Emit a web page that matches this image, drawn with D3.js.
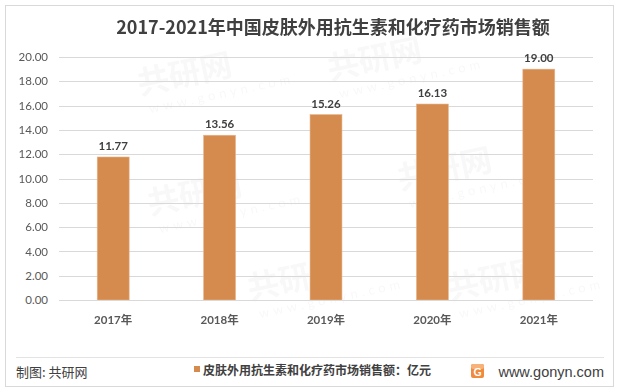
<!DOCTYPE html>
<html><head><meta charset="utf-8">
<script src="https://cdn.jsdelivr.net/npm/d3@7"></script>
<style>
body{margin:0;background:#fff;}
svg{display:block;}
</style></head>
<body>
<svg id="c" width="618" height="392"></svg>
<script>
const categories = ["2017年","2018年","2019年","2020年","2021年"];
const values = [11.77, 13.56, 15.26, 16.13, 19.00];
const yTicks = [0,2,4,6,8,10,12,14,16,18,20];
const title = "2017-2021年中国皮肤外用抗生素和化疗药市场销售额";
const legendLabel = "皮肤外用抗生素和化疗药市场销售额：亿元";
const sourceLabel = "制图: 共研网";
const siteLabel = "www.gonyn.com";

const svg = d3.select("#c");
const font = "Lato, 'Noto Sans CJK SC', sans-serif";
const cjk = "'Noto Sans CJK SC', sans-serif";

// outer border
svg.append("rect").attr("x",5.5).attr("y",5.5).attr("width",608).attr("height",381)
  .attr("fill","#fff").attr("stroke","#d9d9d9");

// faint watermarks (kept well inside the frame)
const wm = svg.append("g").attr("fill","#000").attr("opacity",0.03)
  .attr("font-family",cjk).attr("font-weight","bold");
[[140,95],[330,80],[150,215],[400,190],[250,300],[450,300]].forEach(([x,y])=>{
  wm.append("text").attr("x",x).attr("y",y).attr("font-size",32)
    .attr("transform",`rotate(-12,${x},${y})`).text("共研网");
  wm.append("text").attr("x",x+6).attr("y",y+20).attr("font-size",13).attr("font-family","Lato, sans-serif")
    .attr("font-weight","normal").attr("letter-spacing",4)
    .attr("transform",`rotate(-12,${x},${y})`).text("www.gonyn.com");
});

// title
svg.append("text").attr("x",333).attr("y",34).attr("text-anchor","middle")
  .attr("font-family",cjk).attr("font-weight","bold").attr("font-size",18)
  .attr("fill","#404040").text(title);

const x = d3.scaleBand().domain(categories).range([60,592]).paddingInner(0.7).paddingOuter(0.35);
const y = d3.scaleLinear().domain([0,20]).range([300,57]);

// grid
svg.append("g").selectAll("line").data(yTicks.filter(d=>d>0)).join("line")
  .attr("x1",59).attr("x2",593).attr("y1",d=>Math.round(y(d))+0.5).attr("y2",d=>Math.round(y(d))+0.5)
  .attr("stroke","#d9d9d9").attr("stroke-width",1);

// y axis labels
const yAxis = d3.axisLeft(y).tickValues(yTicks).tickFormat(d=>d.toFixed(2)).tickSize(0).tickPadding(0);
const ga = svg.append("g").attr("transform","translate(48,0)").call(yAxis);
ga.select(".domain").remove();
ga.selectAll("text").attr("font-family",font).attr("font-size",11.5).attr("fill","#595959");

// bars
svg.append("g").selectAll("rect").data(values).join("rect")
  .attr("x",(d,i)=>x(categories[i])).attr("width",x.bandwidth())
  .attr("y",d=>y(d)).attr("height",d=>y(0)-y(d))
  .attr("fill","#d48b4d").attr("stroke","#e7b48a").attr("stroke-width",0.6);

// value labels
svg.append("g").selectAll("text").data(values).join("text")
  .attr("x",(d,i)=>x(categories[i])+x.bandwidth()/2).attr("y",d=>y(d)-7)
  .attr("text-anchor","middle").attr("font-family",font).attr("font-weight","bold")
  .attr("font-size",11.5).attr("fill","#404040").text(d=>d.toFixed(2));

// x axis
const xAxis = d3.axisBottom(x).tickSize(0).tickPadding(0);
const gx = svg.append("g").attr("transform","translate(0,300)").call(xAxis);
gx.select(".domain").attr("stroke","#d9d9d9").attr("d","M59,0.5H593");
gx.selectAll("text").attr("dy",0).attr("y",24).attr("font-family",font).attr("font-weight","bold")
  .attr("font-size",11.5).attr("fill","#595959");

// footer
svg.append("line").attr("x1",16).attr("x2",604).attr("y1",357.5).attr("y2",357.5).attr("stroke","#e3e3e3");
svg.append("text").attr("x",16).attr("y",377).attr("font-family",cjk).attr("font-size",13)
  .attr("fill","#404040").text(sourceLabel);
svg.append("rect").attr("x",194).attr("y",366).attr("width",6).attr("height",6).attr("fill","#d48b4d");
svg.append("text").attr("x",203).attr("y",375).attr("font-family",cjk).attr("font-size",12)
  .attr("font-weight","bold").attr("fill","#404040").text(legendLabel);
// logo
const lg = svg.append("g").attr("transform","translate(471,364)");
lg.append("rect").attr("width",13).attr("height",14).attr("rx",2).attr("fill","#f08a3c");
lg.append("rect").attr("x",0).attr("y",0).attr("width",13).attr("height",5).attr("rx",2).attr("fill","#f6b27a");
lg.append("text").attr("x",6.5).attr("y",12).attr("text-anchor","middle").attr("font-family","Lato, sans-serif")
  .attr("font-weight","bold").attr("font-size",11).attr("fill","#fff").text("G");
svg.append("text").attr("x",604).attr("y",377).attr("text-anchor","end").attr("font-family","'Liberation Sans', Arial, sans-serif")
  .attr("font-size",14.5).attr("fill","#404040").text(siteLabel);
</script>
</body></html>
